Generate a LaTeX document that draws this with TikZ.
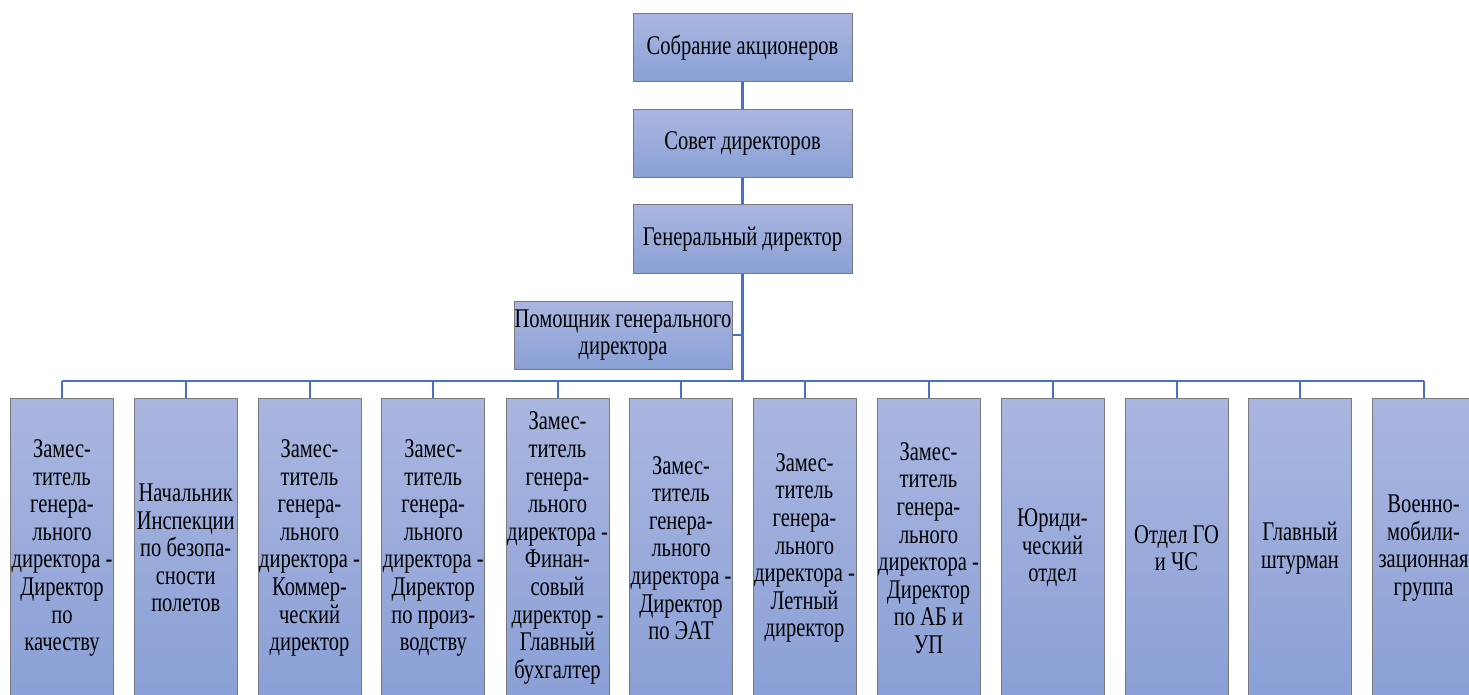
\documentclass[tikz,border=0pt]{standalone}
\usepackage{fontspec}
\setmainfont{Liberation Serif}[FakeStretch=0.76]
\definecolor{boxtop}{RGB}{170,182,224}
\definecolor{boxbot}{RGB}{138,160,214}
\definecolor{boxline}{RGB}{120,120,125}
\definecolor{conn}{RGB}{68,114,196}
\tikzset{
  unit/.style={draw=boxline, line width=1pt, top color=boxtop, bottom color=boxbot,
    align=center, inner sep=0pt, font=\fontsize{27}{27.6}\selectfont},
  topbox/.style={unit, minimum width=219pt, minimum height=68pt},
  subbox/.style={unit, minimum width=103pt, minimum height=300pt},
  link/.style={draw=conn, line width=2.3pt},
  drop/.style={draw=conn, line width=2pt}
}
\begin{document}
\begin{tikzpicture}[x=1pt,y=-1pt]
\useasboundingbox (0,0) rectangle (1469,695);
\clip (0,0) rectangle (1469,695);
\fill[white] (0,0) rectangle (1469,695);
% top chain
\node[topbox] (sob) at (742.5,48) {Собрание акционеров};
\node[topbox] (sov) at (742.5,143.5) {Совет директоров};
\node[topbox] (gen) at (742.5,239) {Генеральный директор};
\node[topbox, minimum width=218pt] (pom) at (623,335) {Помощник генерального\\директора};
\coordinate (busL) at (62,381);
\coordinate (busR) at (1423.5,381);
% bottom boxes
\node[subbox] (b1) at (62,548) {Замес-\\титель\\генера-\\льного\\директора -\\Директор\\по\\качеству};
\node[subbox] (b2) at (185.75,548) {Начальник\\Инспекции\\по безопа-\\сности\\полетов};
\node[subbox] (b3) at (309.5,548) {Замес-\\титель\\генера-\\льного\\директора -\\Коммер-\\ческий\\директор};
\node[subbox] (b4) at (433.25,548) {Замес-\\титель\\генера-\\льного\\директора -\\Директор\\по произ-\\водству};
\node[subbox] (b5) at (557.5,548) {Замес-\\титель\\генера-\\льного\\директора -\\Финан-\\совый\\директор -\\Главный\\бухгалтер};
\node[subbox] (b6) at (681,548) {Замес-\\титель\\генера-\\льного\\директора -\\Директор\\по ЭАТ};
\node[subbox] (b7) at (804.5,548) {Замес-\\титель\\генера-\\льного\\директора -\\Летный\\директор};
\node[subbox] (b8) at (928.5,548) {Замес-\\титель\\генера-\\льного\\директора -\\Директор\\по АБ и\\УП};
\node[subbox] (b9) at (1052.5,548) {Юриди-\\ческий\\отдел};
\node[subbox] (b10) at (1176.5,548) {Отдел ГО\\и ЧС};
\node[subbox] (b11) at (1300,548) {Главный\\штурман};
\node[subbox] (b12) at (1423.5,548) {Военно-\\мобили-\\зационная\\группа};
% connectors
\draw[link] (sob.south) -- (sov.north);
\draw[link] (sov.south) -- (gen.north);
\draw[link] (gen.south) -- (gen.south |- busL);
\draw[link] (pom.east) -- (pom.east -| gen.south);
\draw[link] (busL) -- (busR);
\foreach \b in {b1,b2,b3,b4,b5,b6,b7,b8,b9,b10,b11,b12}
  \draw[drop] (\b.north |- busL) -- (\b.north);
\end{tikzpicture}
\end{document}
